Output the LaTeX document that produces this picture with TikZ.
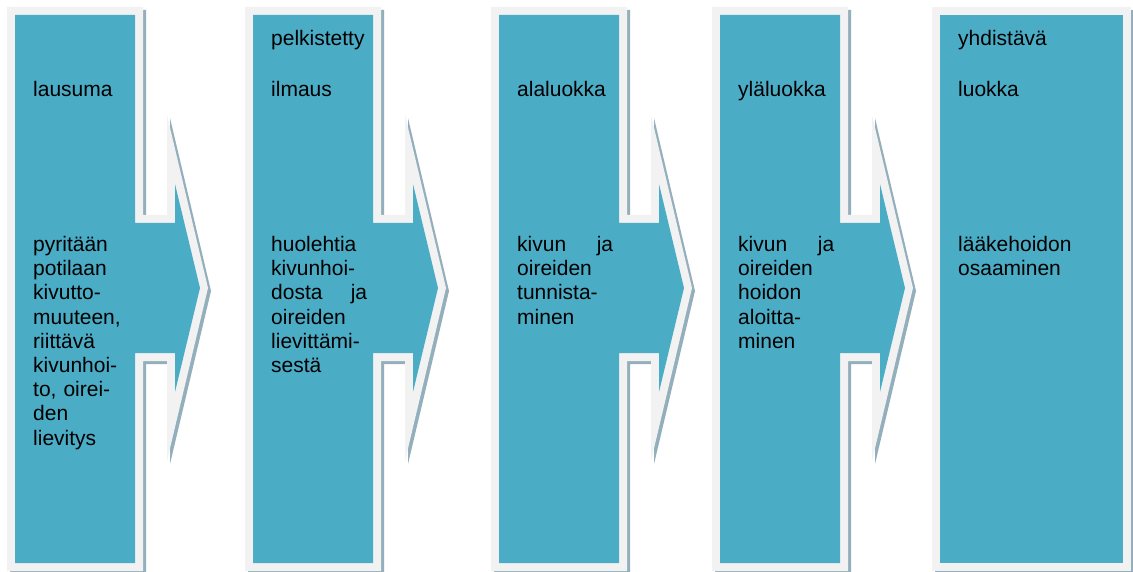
\documentclass[tikz,border=0pt]{standalone}
\usepackage{fontspec}
\setmainfont{Liberation Sans}
\definecolor{boxfill}{HTML}{4BACC6}
\definecolor{boxrim}{HTML}{F2F2F2}
\definecolor{boxshadow}{HTML}{93AFBB}
\tikzset{
  rim/.style={fill=boxrim},
  core/.style={fill=boxfill},
  shade/.style={fill=boxshadow},
  lbl/.style={anchor=base west, inner sep=0pt, text=black, font=\fontsize{21}{24.2}\selectfont},
  body/.style={lbl, text width=96pt, align=left},
}
\begin{document}
\begin{tikzpicture}[x=1pt,y=-1pt]
\fill[white] (0,0) rectangle (1133,572);
\useasboundingbox (0,0) rectangle (1133,572);
\begin{scope}
\clip (0,0) rectangle (1133,572);
\foreach \L in {7,245,491,712}{
  \pgfmathsetmacro\R{\L+136}
  \fill[shade,shift={(3,3)}] (\L,7) -- (\R,7) -- (\R,215) -- (\R+24,215) -- (\R+24,115) -- (\R+65,288) -- (\R+24,461) -- (\R+24,361) -- (\R,361) -- (\R,571) -- (\L,571) -- cycle;
  \fill[rim] (\L,7) -- (\R,7) -- (\R,215) -- (\R+24,215) -- (\R+24,115) -- (\R+65,288) -- (\R+24,461) -- (\R+24,361) -- (\R,361) -- (\R,571) -- (\L,571) -- cycle;
  \fill[core] (\L+8,15) -- (\R-8,15) -- (\R-8,223) -- (\R+32,223) -- (\R+32,184) -- (\R+57,288) -- (\R+32,392) -- (\R+32,353) -- (\R-8,353) -- (\R-8,563) -- (\L+8,563) -- cycle;
}
\fill[shade] (935,10) rectangle (1134,574);
\fill[rim] (932,7) rectangle (1131,571);
\fill[core] (940,15) rectangle (1123,563);
\end{scope}

% shape 1
\node[lbl] (t1a) at (33,96.5) {lausuma};
\node[body] (t1b) at (33,251.5) {pyritään\\potilaan\\kivutto-\\muuteen,\\riittävä\\kivunhoi-\\to, oirei-\\den\\lievitys};
% shape 2
\node[lbl] (t2a) at (271,45.5) {pelkistetty};
\node[lbl] (t2b) at (271,96.5) {ilmaus};
\node[body] (t2c) at (271,251.5) {huolehtia\\kivunhoi-\\dosta\hfill ja\\oireiden\\lievittämi-\\sestä};
% shape 3
\node[lbl] (t3a) at (517,96.5) {alaluokka};
\node[body] (t3b) at (517,251.5) {kivun\hfill ja\\oireiden\\tunnista-\\minen};
% shape 4
\node[lbl] (t4a) at (738,96.5) {yläluokka};
\node[body] (t4b) at (738,251.5) {kivun\hfill ja\\oireiden\\hoidon\\aloitta-\\minen};
% shape 5
\node[lbl] (t5a) at (958,45.5) {yhdistävä};
\node[lbl] (t5b) at (958,96.5) {luokka};
\node[body] (t5c) at (958,251.5) {lääkehoidon\\osaaminen};
\end{tikzpicture}
\end{document}
